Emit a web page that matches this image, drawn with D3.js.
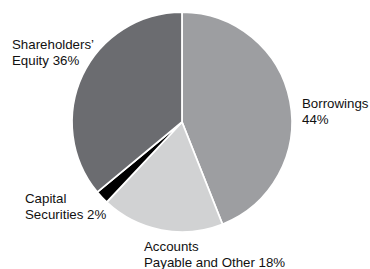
<!DOCTYPE html>
<html>
<head>
<meta charset="utf-8">
<script src="https://cdn.jsdelivr.net/npm/d3@7"></script>
<style>
  body { margin: 0; background: #fff; }
  svg text { font-family: "Liberation Sans", Arial, sans-serif; font-size: 13.3px; fill: #111; }
</style>
</head>
<body>
<div class="chart"></div>
<script>
const categories = ['Borrowings', 'Accounts Payable and Other', 'Capital Securities', "Shareholders' Equity"];
const shares = [44, 18, 2, 36];
const colors = ['#9d9ea1', '#d1d2d3', '#000000', '#6b6c70'];
// label lines as printed
const labelLines = [
  ['Borrowings', '44%'],
  ['Accounts', 'Payable and Other 18%'],
  ['Capital', 'Securities 2%'],
  ["Shareholders\u2019", 'Equity 36%']
];
// label anchor (first line baseline) per slice
const labelPos = [[302, 108], [144, 251], [25, 203], [12, 49]];

const width = 370, height = 269;
const cx = 182, cy = 122, radius = 110;

const data = categories.map((c, i) => ({ name: c, value: shares[i], color: colors[i], lines: labelLines[i], pos: labelPos[i] }));

const svg = d3.select('.chart')
  .append('svg')
  .attr('width', width)
  .attr('height', height);

const pie = d3.pie()
  .sort(null)
  .value(d => d.value);

const arc = d3.arc()
  .innerRadius(0)
  .outerRadius(radius);

const g = svg.append('g')
  .attr('transform', 'translate(' + cx + ',' + cy + ')');

g.selectAll('path')
  .data(pie(data))
  .enter()
  .append('path')
  .attr('d', arc)
  .attr('fill', d => d.data.color)
  .attr('stroke', '#fff')
  .attr('stroke-width', 1.8)
  .attr('stroke-linejoin', 'round');

const labels = svg.selectAll('text.label')
  .data(data)
  .enter()
  .append('text')
  .attr('class', 'label')
  .attr('x', d => d.pos[0])
  .attr('y', d => d.pos[1]);

labels.selectAll('tspan')
  .data(d => d.lines.map((t, i) => ({ t, i, x: d.pos[0] })))
  .enter()
  .append('tspan')
  .attr('x', d => d.x)
  .attr('dy', d => d.i === 0 ? 0 : 16)
  .text(d => d.t);
</script>
</body>
</html>
